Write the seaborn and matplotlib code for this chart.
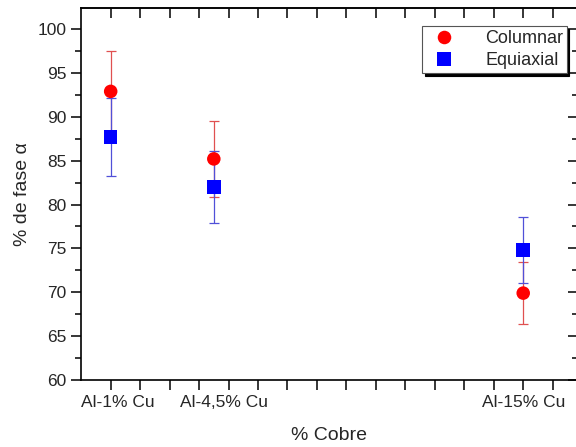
import numpy as np
import pandas as pd
import matplotlib
matplotlib.use("Agg")
import matplotlib.pyplot as plt
import seaborn as sns
from matplotlib.ticker import MultipleLocator

cu_pct = [1, 4.5, 15]
tick_labels = ["Al-1% Cu", "Al-4,5% Cu", "Al-15% Cu"]
columnar = [92.9, 85.2, 69.9]
columnar_err = [4.6, 4.3, 3.5]
equiaxial = [87.7, 82.0, 74.8]
equiaxial_err = [4.4, 4.1, 3.75]

df = pd.DataFrame({
    "cu": cu_pct * 2,
    "fase": columnar + equiaxial,
    "err": columnar_err + equiaxial_err,
    "serie": ["Columnar"] * 3 + ["Equiaxial"] * 3,
})

sns.set_style("ticks")
plt.rcParams["font.family"] = ["Liberation Sans", "DejaVu Sans"]

fig = plt.figure(figsize=(5.76, 4.47), dpi=100)
ax = fig.add_axes([0.141, 0.15, 0.862, 0.832])

ax.errorbar(cu_pct, columnar, yerr=columnar_err, fmt="none", ecolor="#e05050",
            elinewidth=0.9, capsize=3.5, capthick=0.9, zorder=2)
ax.errorbar(cu_pct, equiaxial, yerr=equiaxial_err, fmt="none", ecolor="#5050d8",
            elinewidth=0.9, capsize=3.5, capthick=0.9, zorder=2)

sns.scatterplot(data=df, x="cu", y="fase", hue="serie", style="serie",
                palette={"Columnar": "#ff0000", "Equiaxial": "#0000ff"},
                markers={"Columnar": "o", "Equiaxial": "s"},
                s=95, linewidth=0, ax=ax, zorder=3)

ax.set_xlim(0, 16.85)
ax.set_ylim(60, 102.4)
ax.yaxis.set_major_locator(MultipleLocator(5))
ax.yaxis.set_minor_locator(MultipleLocator(2.5))
ax.xaxis.remove_overlapping_locs = False
ax.set_xticks(np.arange(1, 17, 1))
ax.set_xticklabels([])
ax.set_xticks([1.25, 4.85, 15.02], minor=True)
ax.set_xticklabels(tick_labels, minor=True, fontsize=12.5)
ax.tick_params(axis="x", which="minor", length=0, pad=11)
ax.tick_params(axis="x", which="major", direction="out", length=7, width=1.1,
               color="black")
ax.tick_params(axis="y", which="major", direction="out", length=7, width=1.1,
               labelsize=12.5, color="black")
ax.tick_params(axis="y", which="minor", direction="out", length=4, width=1.1,
               color="black")
for sp in ax.spines.values():
    sp.set_linewidth(1.2)
    sp.set_color("black")
    sp.set_visible(True)

top = ax.secondary_xaxis("top")
top.set_xticks(np.arange(1, 17, 1))
top.set_xticklabels([])
top.tick_params(direction="in", length=7, width=1.1, color="black")
top.spines["top"].set_linewidth(1.2)
right = ax.secondary_yaxis("right")
right.yaxis.set_major_locator(MultipleLocator(5))
right.yaxis.set_minor_locator(MultipleLocator(2.5))
right.set_yticklabels([])
right.tick_params(which="major", direction="in", length=7, width=1.1, color="black")
right.tick_params(which="minor", direction="in", length=4, width=1.1, color="black")
right.spines["right"].set_linewidth(1.2)

ax.set_xlabel("% Cobre", fontsize=14, labelpad=12)
ax.set_ylabel("% de fase α", fontsize=14, labelpad=5)

leg = ax.legend(loc="upper right", bbox_to_anchor=(0.996, 0.975), fontsize=13,
                frameon=True, fancybox=False, shadow={"color": "black", "alpha": 1},
                borderpad=0.2, handletextpad=1.3, labelspacing=0.3,
                edgecolor="#555555", framealpha=1)
leg.get_frame().set_linewidth(0.8)

fig.savefig("out.png", dpi=100)
